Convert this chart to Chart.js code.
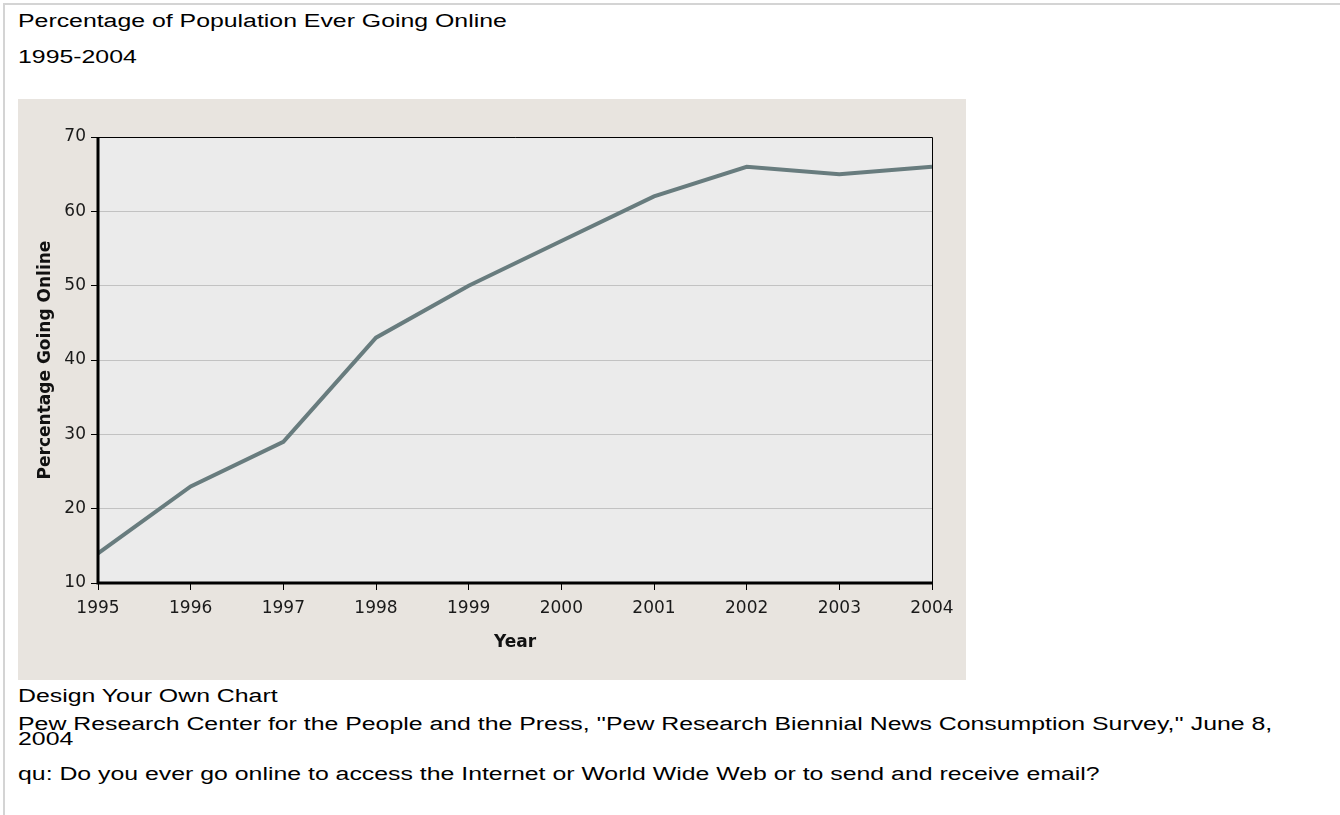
<!DOCTYPE html>
<html lang="en">
<head>
  <meta charset="UTF-8" />
  <title>Percentage of Population Ever Going Online</title>
  <script src="https://cdn.jsdelivr.net/npm/chart.js"></script>
  <style>
    body { margin: 0; background: #fff; font-family: "Liberation Sans", Arial, sans-serif; color: #000; overflow: hidden; }
    #frame { position: absolute; left: 3px; top: 3px; right: 0; height: 812px; border-top: 2px solid #d4d4d4; border-left: 2px solid #d4d4d4; }
    /* the page text in the reference is drawn wide, so stretch it sideways */
    .txt { position: absolute; left: 18px; font-size: 18px; line-height: 20px; white-space: nowrap; transform: scaleX(1.38); transform-origin: left top; }
    #chart-box { position: absolute; left: 18px; top: 99px; width: 948px; height: 581px; background: #e8e4df; }
  </style>
</head>
<body>
  <div id="frame"></div>
  <div class="txt" style="top:11px">Percentage of Population Ever Going Online</div>
  <div class="txt" style="top:47px">1995-2004</div>
  <div id="chart-box"><canvas id="onlineChart" width="948" height="581"></canvas></div>
  <div class="txt" style="top:686px">Design Your Own Chart</div>
  <div class="txt" style="top:717px; line-height:15px">Pew Research Center for the People and the Press, ''Pew Research Biennial News Consumption Survey,'' June 8,<br>2004</div>
  <div class="txt" style="top:764px">qu: Do you ever go online to access the Internet or World Wide Web or to send and receive email?</div>

  <script>
    const years = ['1995', '1996', '1997', '1998', '1999', '2000', '2001', '2002', '2003', '2004'];
    const pctOnline = [14, 23, 29, 43, 50, 56, 62, 66, 65, 66];
    const yTicks = [10, 20, 30, 40, 50, 60, 70];

    // plot background + frame (thick left/bottom, thin top/right)
    const plotFrame = {
      id: 'plotFrame',
      beforeDraw(chart) {
        const { ctx, chartArea: a } = chart;
        ctx.save();
        ctx.fillStyle = '#ebebeb';
        ctx.fillRect(a.left, a.top, a.right - a.left, a.bottom - a.top);
        ctx.restore();
      },
      afterDraw(chart) {
        const { ctx, chartArea: a } = chart;
        ctx.save();
        ctx.strokeStyle = '#000';
        ctx.lineWidth = 1;
        ctx.beginPath();
        ctx.moveTo(a.left, a.top + 0.5);
        ctx.lineTo(a.right + 0.5, a.top + 0.5);
        ctx.lineTo(a.right + 0.5, a.bottom);
        ctx.stroke();
        ctx.lineWidth = 3;
        ctx.beginPath();
        ctx.moveTo(a.left, a.top);
        ctx.lineTo(a.left, a.bottom);
        ctx.lineTo(a.right + 1, a.bottom);
        ctx.stroke();
        ctx.restore();
      }
    };

    const ctx = document.getElementById('onlineChart').getContext('2d');
    new Chart(ctx, {
      type: 'line',
      data: {
        labels: years,
        datasets: [{
          label: 'Percentage Going Online',
          data: pctOnline,
          borderColor: '#687c7e',
          borderWidth: 4,
          pointRadius: 0,
          tension: 0,
          fill: false
        }]
      },
      options: {
        responsive: false,
        animation: false,
        layout: { padding: { left: 0, top: 38, right: 34, bottom: 0 } },
        plugins: { legend: { display: false }, tooltip: { enabled: false } },
        scales: {
          x: {
            offset: false,
            grid: { drawOnChartArea: false, tickLength: 7, tickColor: '#000', tickWidth: 1 },
            border: { display: false },
            ticks: { color: '#1a1a1a', padding: 8, maxRotation: 0, autoSkip: false, font: { family: 'DejaVu Sans', size: 17 } },
            title: { display: true, text: 'Year', color: '#111', padding: { top: 0, bottom: 27 }, font: { family: 'DejaVu Sans', size: 17, weight: 'bold' } },
            afterFit(scale) { scale.height = 97; }
          },
          y: {
            min: 10,
            max: 70,
            afterBuildTicks(scale) { scale.ticks = yTicks.map(v => ({ value: v })); },
            grid: { color: '#c2c2c2', lineWidth: 1, tickLength: 7, tickColor: '#000' },
            border: { display: false },
            ticks: { color: '#1a1a1a', padding: 5, font: { family: 'DejaVu Sans', size: 17 } },
            title: { display: true, text: 'Percentage Going Online', color: '#111', padding: { top: 17, bottom: 0 }, font: { family: 'DejaVu Sans', size: 17, weight: 'bold' } },
            afterFit(scale) { scale.width = 80; }
          }
        }
      },
      plugins: [plotFrame]
    });
  </script>
</body>
</html>
